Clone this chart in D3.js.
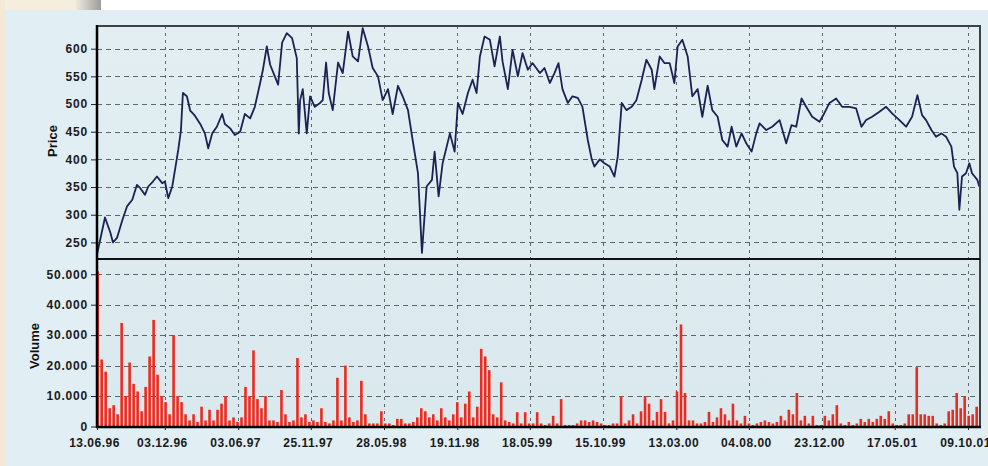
<!DOCTYPE html>
<html><head><meta charset="utf-8">
<script src="https://cdn.jsdelivr.net/npm/d3@7"></script>
<style>
body{margin:0;background:#e1eef3;}
svg{display:block;}
text{font-family:"Liberation Sans",Arial,sans-serif;}
</style>
</head><body><svg id="c" width="988" height="466"></svg>
<script>
// ---------- data ----------
const tickLabels=["13.06.96","03.12.96","03.06.97","25.11.97","28.05.98","19.11.98","18.05.99","15.10.99","13.03.00","04.08.00","23.12.00","17.05.01","09.10.01"];
const tickDays=[0,102,212,321,431,541,650,760,870,979,1089,1198,1308];
const priceTicks=[250,300,350,400,450,500,550,600];
const volumeTicks=[0,10000,20000,30000,40000,50000];

const priceDays=[0,12,20,24,30,38,45,53,60,65,72,77,84,90,98,102,107,113,117,122,126,129,135,140,147,155,162,167,173,180,188,192,200,207,215,222,230,237,245,249,255,260,267,272,278,285,293,300,303,305,309,315,320,327,335,339,344,348,354,362,369,377,384,392,399,407,414,422,429,437,444,452,459,467,474,482,488,495,503,507,513,519,530,537,542,549,557,564,570,575,582,590,597,605,609,617,624,632,639,647,654,665,672,680,687,693,699,707,714,722,729,737,743,747,755,762,770,777,782,788,795,803,810,818,825,833,837,845,852,860,867,872,879,887,894,902,909,917,924,932,939,947,953,960,968,975,983,990,995,1005,1014,1025,1035,1043,1050,1058,1065,1074,1085,1092,1100,1110,1119,1130,1140,1148,1155,1164,1175,1185,1194,1205,1215,1224,1232,1239,1245,1253,1260,1268,1275,1283,1287,1292,1295,1299,1305,1310,1314,1322,1325];
const price=[228,295,268,250,258,290,315,327,354,348,336,351,360,369,357,360,330,351,380,417,452,520,514,488,479,464,447,420,447,459,482,464,456,444,450,482,474,495,538,561,604,571,550,535,611,628,619,583,447,507,527,447,514,495,502,507,575,520,489,575,556,631,586,577,637,604,565,550,507,527,482,533,514,489,435,375,231,351,363,414,333,393,447,414,502,482,520,544,520,586,622,616,568,622,577,527,598,550,592,562,574,556,565,538,556,574,527,502,514,511,495,435,400,387,400,393,387,369,405,502,489,495,507,544,580,562,527,586,574,574,538,604,616,586,514,527,477,533,489,477,435,423,459,423,447,429,414,447,465,453,459,471,429,462,459,510,495,477,468,483,502,510,495,495,492,459,471,477,486,495,483,471,459,477,516,480,471,453,441,447,441,423,387,375,309,369,375,393,375,363,351];

const volumeStepDays=6;
const volume=[
51000,22000,18000,6000,7000,4000,34000,10000,21000,14000,
11500,5000,13000,23000,35000,17000,10000,8000,4000,30000,
10000,8000,4000,2000,4000,1500,6500,2000,5500,2000,
5500,7500,10000,2000,3000,1500,3000,13000,10000,25000,
9000,6000,10000,2000,2000,1500,12000,4000,1500,2000,
22500,3000,4000,1500,2000,1500,6000,1500,1000,2000,
16000,2000,20000,3000,1500,2000,15000,4000,1000,1000,
1000,5000,1000,1000,500,2500,2500,1000,1000,1500,
3000,6000,5000,3000,4000,2000,6000,3000,2000,4000,
8000,3000,7500,11500,3000,6500,25500,23000,18500,4000,
3000,14500,2000,1500,1000,4700,1000,4700,1000,1000,
4700,1000,500,1000,3500,1000,9000,500,500,500,
1000,2000,2000,1500,2000,1500,1000,500,500,1000,
1000,10000,1000,2000,4000,1000,5000,10000,7500,2000,
4800,9000,4800,1000,2000,11500,33500,11000,2000,2000,
1000,1000,1500,4800,1500,3000,6000,4000,2000,7500,
2000,1000,3500,1000,500,1000,1500,2000,1500,1000,
1500,3500,2000,5500,4000,11000,2000,3500,1000,3500,
500,500,3500,2000,4000,7000,1000,500,1500,500,
1000,2500,1500,2500,1500,2500,3500,2500,5000,1000,
500,500,1000,4000,4000,19500,4000,4000,3500,3500,
1000,500,1000,5000,5500,11000,6000,10000,3500,4000,
6500];

// ---------- layout ----------
const L=97,R=980,T=26,M=259,B=427;
const svg=d3.select("#c");
const x=d3.scaleLinear().domain([0,1326]).range([L,R]);
const yP=d3.scaleLinear().domain([220,641]).range([M,T]);
const yV=d3.scaleLinear().domain([0,55000]).range([B-0.5,M]);
const loc=d3.formatLocale({decimal:",",thousands:".",grouping:[3],currency:["",""]});
const fmtV=loc.format(",");

// page background artefacts (scanned page)
const defs=svg.append("defs");
const g1=defs.append("linearGradient").attr("id","gr").attr("x1",0).attr("x2",1);
g1.append("stop").attr("offset",0).attr("stop-color","#efe9dc");
g1.append("stop").attr("offset",1).attr("stop-color","#9c9c9a");
const pg=defs.append("linearGradient").attr("id","pbg").attr("x1",0).attr("y1",0).attr("x2",0).attr("y2",1);
pg.append("stop").attr("offset",0).attr("stop-color","#e2eef2");
pg.append("stop").attr("offset",1).attr("stop-color","#dae9ee");
svg.append("rect").attr("width",988).attr("height",466).attr("fill","#e1eef3");
svg.append("rect").attr("x",0).attr("y",0).attr("width",988).attr("height",10).attr("fill","#ffffff");
svg.append("rect").attr("x",0).attr("y",0).attr("width",76).attr("height",10).attr("fill","#f5eddd");
svg.append("rect").attr("x",76).attr("y",0).attr("width",25).attr("height",10).attr("fill","url(#gr)");
svg.append("rect").attr("x",0).attr("y",0).attr("width",5).attr("height",466).attr("fill","#f3e9d6");

defs.append("clipPath").attr("id","clipP").append("rect").attr("x",L).attr("y",T).attr("width",R-L).attr("height",M-T);

// plot background
svg.append("rect").attr("x",L).attr("y",T).attr("width",R-L).attr("height",B-T).attr("fill","url(#pbg)");

// grid
const grid=svg.append("g").attr("stroke","#5d6668").attr("stroke-width",1).attr("fill","none");
grid.selectAll(".hp").data(priceTicks).join("line")
  .attr("x1",L).attr("x2",R).attr("y1",d=>Math.round(yP(d))+0.5).attr("y2",d=>Math.round(yP(d))+0.5)
  .attr("stroke-dasharray","5,4");
grid.selectAll(".hv").data(volumeTicks.filter(d=>d>0)).join("line")
  .attr("x1",L).attr("x2",R).attr("y1",d=>Math.round(yV(d))+0.5).attr("y2",d=>Math.round(yV(d))+0.5)
  .attr("stroke-dasharray","5,4");
grid.selectAll(".v").data(tickDays.slice(1)).join("line")
  .attr("x1",d=>Math.round(x(d))+0.5).attr("x2",d=>Math.round(x(d))+0.5).attr("y1",T).attr("y2",B)
  .attr("stroke-dasharray","3,4");

// volume bars
svg.append("g").selectAll("rect").data(volume).join("rect")
  .attr("x",(d,i)=>x(i*volumeStepDays+1)-1.3)
  .attr("width",2.6)
  .attr("y",d=>yV(d))
  .attr("height",d=>yV(0)-yV(d))
  .attr("fill","#ec2b20");

// price line
const line=d3.line().x(d=>x(d[0])).y(d=>yP(d[1]));
svg.append("path").datum(priceDays.map((d,i)=>[d,price[i]]))
  .attr("clip-path","url(#clipP)")
  .attr("d",line).attr("fill","none").attr("stroke","#1b2152").attr("stroke-width",1.8)
  .attr("stroke-linejoin","round");

// frame
svg.append("line").attr("x1",L).attr("x2",R+1).attr("y1",T).attr("y2",T).attr("stroke","#3d4344").attr("stroke-width",2);
svg.append("line").attr("x1",R).attr("x2",R).attr("y1",T).attr("y2",B).attr("stroke","#3d4344").attr("stroke-width",2);
svg.append("line").attr("x1",L).attr("x2",R).attr("y1",M).attr("y2",M).attr("stroke","#111").attr("stroke-width",2);
svg.append("line").attr("x1",L-1).attr("x2",R+1).attr("y1",B).attr("y2",B).attr("stroke","#000").attr("stroke-width",2.5);
svg.append("line").attr("x1",L).attr("x2",L).attr("y1",T-1).attr("y2",B+1).attr("stroke","#000").attr("stroke-width",2.5);

// axes
function styleAxis(g){
  g.select(".domain").remove();
  g.selectAll(".tick line").attr("stroke","#222").attr("stroke-width",1);
  g.selectAll(".tick text").attr("fill","#1a1a1a").style("font-size","12px").style("font-weight","bold")
    .style("font-family","'Liberation Sans',Arial,sans-serif").style("letter-spacing","0.8px");
}
svg.append("g").attr("transform",`translate(${L-1},0)`)
  .call(d3.axisLeft(yP).tickValues(priceTicks).tickSize(5).tickPadding(3)).call(styleAxis);
svg.append("g").attr("transform",`translate(${L-1},0)`)
  .call(d3.axisLeft(yV).tickValues(volumeTicks).tickFormat(fmtV).tickSize(5).tickPadding(3)).call(styleAxis);
const xa=svg.append("g").attr("transform",`translate(0,${B})`)
  .call(d3.axisBottom(x).tickValues(tickDays).tickFormat((d,i)=>tickLabels[i]).tickSize(3).tickPadding(8)).call(styleAxis);
xa.selectAll(".tick text").attr("dx",-3).style("letter-spacing","0.5px");

// axis titles
svg.append("text").attr("transform","translate(57,141) rotate(-90)").attr("text-anchor","middle")
  .style("font-size","13px").style("font-weight","bold").attr("fill","#111").text("Price");
svg.append("text").attr("transform","translate(39,346) rotate(-90)").attr("text-anchor","middle")
  .style("font-size","13px").style("font-weight","bold").attr("fill","#111").text("Volume");
</script>
</body></html>
